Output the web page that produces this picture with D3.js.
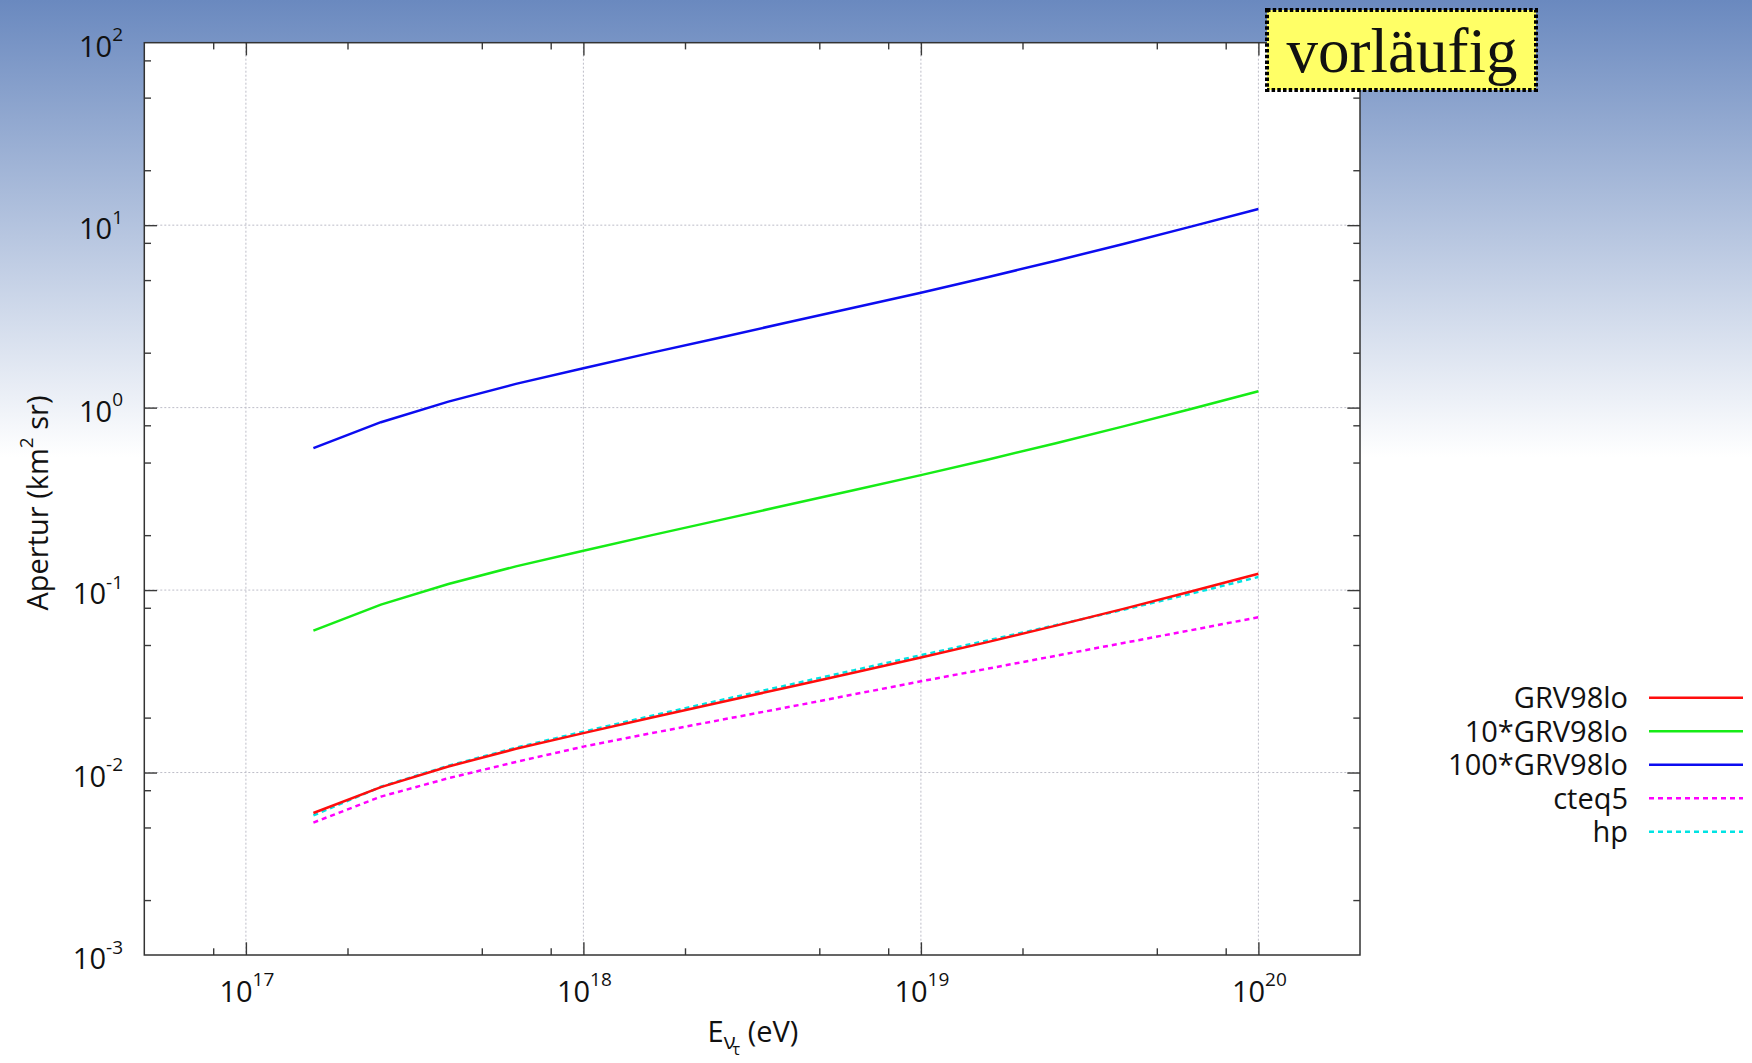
<!DOCTYPE html>
<html>
<head>
<meta charset="utf-8">
<script src="https://cdn.jsdelivr.net/npm/d3@7"></script>
<style>
  html, body { margin: 0; padding: 0; background: #fff; }
  svg { display: block; }
  text { font-family: "Open Sans", "Noto Sans", sans-serif; fill: #111; }
</style>
</head>
<body>
<svg id="chart" width="1752" height="1063"></svg>
<script>
// ---------------- data ----------------
const energies = [1.585e17, 2.512e17, 3.981e17, 6.310e17, 1.0e18, 1.585e18, 2.512e18,
                  3.981e18, 6.310e18, 1.0e19, 1.585e19, 2.512e19, 3.981e19, 6.310e19, 1.0e20];

const grv98lo    = [0.00600, 0.00832, 0.01079, 0.01349, 0.01644, 0.01995, 0.02410,
                    0.02917, 0.03524, 0.04266, 0.05200, 0.06383, 0.07889, 0.09817, 0.1230];
const grv98lo10  = [0.0600, 0.0832, 0.1079, 0.1349, 0.1644, 0.1995, 0.2410,
                    0.2917, 0.3524, 0.4266, 0.5200, 0.6383, 0.7889, 0.9817, 1.230];
const grv98lo100 = [0.600, 0.832, 1.079, 1.349, 1.644, 1.995, 2.410,
                    2.917, 3.524, 4.266, 5.200, 6.383, 7.889, 9.817, 12.25];
const cteq5      = [0.00532, 0.00738, 0.00931, 0.01143, 0.01387, 0.01641, 0.01932,
                    0.02270, 0.02679, 0.03162, 0.03715, 0.04365, 0.05129, 0.06026, 0.07096];
const hp         = [0.00582, 0.00836, 0.01089, 0.01368, 0.01675, 0.02042, 0.02477,
                    0.02999, 0.03631, 0.04395, 0.05309, 0.06427, 0.07798, 0.09550, 0.1180];

const seriesNames  = ["GRV98lo", "10*GRV98lo", "100*GRV98lo", "cteq5", "hp"];
const seriesValues = [grv98lo, grv98lo10, grv98lo100, cteq5, hp];

const xMajorTicks = [1e17, 1e18, 1e19, 1e20];
const xTickExponents = ["17", "18", "19", "20"];
const xMinorTicks = [8e16, 2e17, 5e17, 8e17, 2e18, 5e18, 8e18, 2e19, 5e19, 8e19];
const yMajorTicks = [1e-3, 1e-2, 1e-1, 1e0, 1e1, 1e2];
const yTickExponents = ["-3", "-2", "-1", "0", "1", "2"];
const yMinorTicks = [2e-3, 5e-3, 8e-3, 2e-2, 5e-2, 8e-2, 2e-1, 5e-1, 8e-1, 2, 5, 8, 20, 50, 80];

const stampText = "vorläufig";

// ---------------- styles ----------------
const colors  = ["#ff0d0d", "#16ec16", "#0c0cf0", "#ff00ff", "#00e3e3"];
const dashes  = [null, null, null, "5,4", "5,4"];
const drawOrder = [4, 3, 0, 1, 2];

const W = 1752, H = 1063;
const plot = { left: 144.3, right: 1360, top: 42.7, bottom: 955 };

const svg = d3.select("#chart");

// background gradient
const defs = svg.append("defs");
const grad = defs.append("linearGradient").attr("id", "bg")
  .attr("x1", 0).attr("y1", 0).attr("x2", 0).attr("y2", 1);
grad.append("stop").attr("offset", "0").attr("stop-color", "#6a89bf");
grad.append("stop").attr("offset", "0.43").attr("stop-color", "#ffffff");
grad.append("stop").attr("offset", "1").attr("stop-color", "#ffffff");
svg.append("rect").attr("width", W).attr("height", H).attr("fill", "url(#bg)");

// plot area
svg.append("rect")
  .attr("x", plot.left).attr("y", plot.top)
  .attr("width", plot.right - plot.left).attr("height", plot.bottom - plot.top)
  .attr("fill", "#ffffff");

const x = d3.scaleLog().domain([5e16, 2e20]).range([plot.left, plot.right]);
const y = d3.scaleLog().domain([1e-3, 1e2]).range([plot.bottom, plot.top]);

// grid
const grid = svg.append("g").attr("stroke", "#bdbdc8").attr("stroke-width", 1)
  .attr("stroke-dasharray", "2,2").attr("fill", "none");
xMajorTicks.forEach(v => {
  grid.append("line").attr("x1", x(v)).attr("x2", x(v))
    .attr("y1", plot.top).attr("y2", plot.bottom);
});
yMajorTicks.slice(1, -1).forEach(v => {
  grid.append("line").attr("y1", y(v)).attr("y2", y(v))
    .attr("x1", plot.left).attr("x2", plot.right);
});

// axes (ticks inward, mirrored)
function styleAxis(g) {
  g.select(".domain").remove();
  g.selectAll(".tick line").attr("stroke", "#3a3a3a").attr("stroke-width", 1.4);
  g.selectAll(".tick text").remove();
}
const majorLen = 12.7, minorLen = 6.7;
[[d3.axisBottom, plot.bottom], [d3.axisTop, plot.top]].forEach(([fn, pos]) => {
  svg.append("g").attr("transform", `translate(0,${pos})`)
    .call(fn(x).tickValues(xMajorTicks).tickSizeInner(-majorLen).tickSizeOuter(0).tickFormat(""))
    .call(styleAxis);
  svg.append("g").attr("transform", `translate(0,${pos})`)
    .call(fn(x).tickValues(xMinorTicks).tickSizeInner(-minorLen).tickSizeOuter(0).tickFormat(""))
    .call(styleAxis);
});
[[d3.axisLeft, plot.left], [d3.axisRight, plot.right]].forEach(([fn, pos]) => {
  svg.append("g").attr("transform", `translate(${pos},0)`)
    .call(fn(y).tickValues(yMajorTicks.slice(1, -1)).tickSizeInner(-majorLen).tickSizeOuter(0).tickFormat(""))
    .call(styleAxis);
  svg.append("g").attr("transform", `translate(${pos},0)`)
    .call(fn(y).tickValues(yMinorTicks).tickSizeInner(-minorLen).tickSizeOuter(0).tickFormat(""))
    .call(styleAxis);
});

// series lines
const line = d3.line().x(d => x(d[0])).y(d => y(d[1]));
const lines = svg.append("g").attr("fill", "none");
drawOrder.forEach(i => {
  const pts = energies.map((e, k) => [e, seriesValues[i][k]]);
  lines.append("path").attr("d", line(pts))
    .attr("stroke", colors[i]).attr("stroke-width", 2.5)
    .attr("stroke-dasharray", dashes[i]);
});

// frame
svg.append("rect")
  .attr("x", plot.left).attr("y", plot.top)
  .attr("width", plot.right - plot.left).attr("height", plot.bottom - plot.top)
  .attr("fill", "none").attr("stroke", "#333").attr("stroke-width", 1.5);

// tick labels
const labelSize = 29, supSize = 19;
xMajorTicks.forEach((v, i) => {
  const t = svg.append("text").attr("x", x(v) + 1).attr("y", 1001.7)
    .attr("text-anchor", "middle").attr("font-size", labelSize);
  t.append("tspan").text("10");
  t.append("tspan").attr("font-size", supSize).attr("dy", -15.5).text(xTickExponents[i]);
});
yMajorTicks.forEach((v, i) => {
  const t = svg.append("text").attr("x", 123).attr("y", y(v) + 14)
    .attr("text-anchor", "end").attr("font-size", labelSize);
  t.append("tspan").text("10");
  t.append("tspan").attr("font-size", supSize).attr("dy", -15.5).text(yTickExponents[i]);
});

// axis titles
const xt = svg.append("text").attr("x", 753).attr("y", 1042)
  .attr("text-anchor", "middle").attr("font-size", labelSize);
xt.append("tspan").text("E");
xt.append("tspan").attr("font-size", 22).attr("dy", 7).text("ν");
xt.append("tspan").attr("font-size", 16).attr("dy", 6).attr("dx", -3).text("τ");
xt.append("tspan").attr("font-size", labelSize).attr("dy", -13).text(" (eV)");

const yt = svg.append("text")
  .attr("transform", "translate(48,503) rotate(-90)")
  .attr("text-anchor", "middle").attr("font-size", labelSize);
yt.append("tspan").text("Apertur (km");
yt.append("tspan").attr("font-size", supSize).attr("dy", -15).text("2");
yt.append("tspan").attr("dy", 15).text(" sr)");

// legend
const legend = svg.append("g");
const legY0 = 697.7, legStep = 33.5;
seriesNames.forEach((name, i) => {
  const ly = legY0 + i * legStep;
  legend.append("text").attr("x", 1628).attr("y", ly + 10.5)
    .attr("text-anchor", "end").attr("font-size", labelSize).text(name);
  legend.append("line").attr("x1", 1649).attr("x2", 1743)
    .attr("y1", ly).attr("y2", ly)
    .attr("stroke", colors[i]).attr("stroke-width", 2.5)
    .attr("stroke-dasharray", dashes[i]);
});

// "vorläufig" stamp
const stamp = svg.append("g");
stamp.append("rect").attr("x", 1267).attr("y", 10).attr("width", 269).attr("height", 80)
  .attr("fill", "#ffff66").attr("stroke", "#000").attr("stroke-width", 4)
  .attr("stroke-dasharray", "3.5,2.2");
stamp.append("text").attr("x", 1402).attr("y", 71.5).attr("text-anchor", "middle")
  .style("font-family", "'Liberation Serif', 'Times New Roman', serif")
  .attr("font-size", 63).text(stampText);
</script>
</body>
</html>
